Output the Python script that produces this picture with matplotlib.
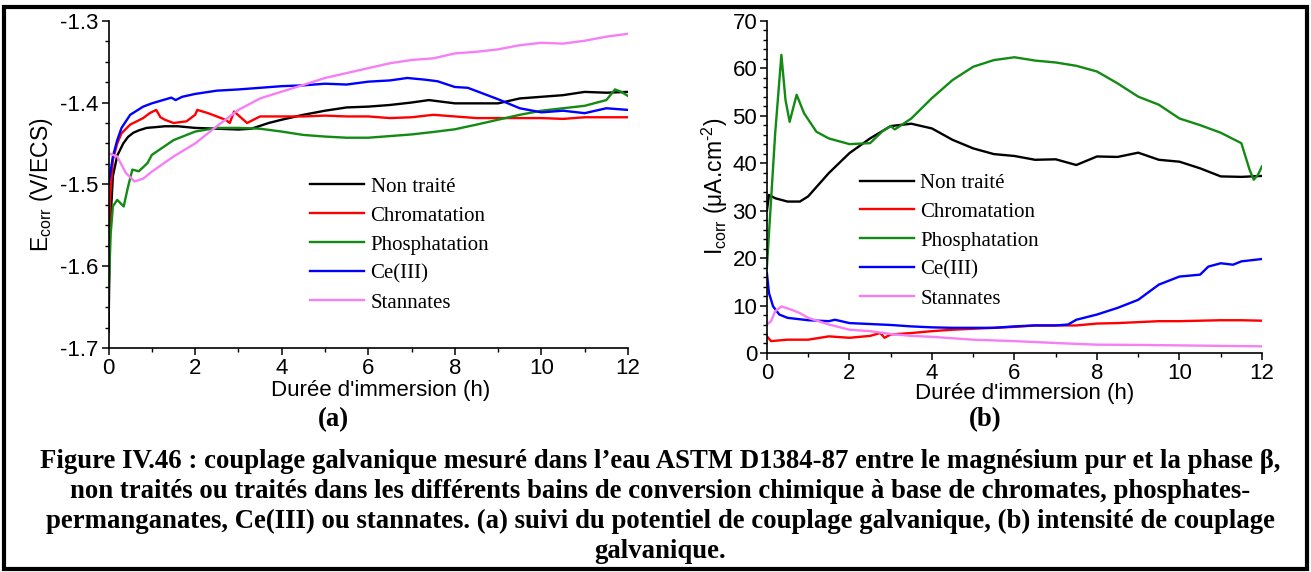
import matplotlib.pyplot as plt
from matplotlib.patches import Rectangle
from matplotlib.ticker import MultipleLocator

plt.rcParams['font.family'] = ['Liberation Sans', 'DejaVu Sans']
plt.rcParams['mathtext.fontset'] = 'custom'
plt.rcParams['mathtext.rm'] = 'Liberation Sans'
plt.rcParams['axes.unicode_minus'] = False

labels = ['Non traité', 'Chromatation', 'Phosphatation', 'Ce(III)', 'Stannates']
colors = ['black', '#ff0000', '#138a13', '#0000ff', '#f57ff5']

# (a) potentiel de couplage E_corr (V/ECS)
t_nt_a = [0, 0.03, 0.1, 0.2, 0.34, 0.45, 0.57, 0.7, 0.88, 1.1, 1.3, 1.6, 2, 2.5, 3, 3.3,
          3.7, 4, 4.5, 5, 5.5, 6, 6.5, 7, 7.4, 7.7, 8, 8.5, 9, 9.5, 10, 10.5, 11, 11.5, 12]
e_nt = [-1.68, -1.56, -1.49, -1.465, -1.45, -1.442, -1.437, -1.434, -1.431, -1.43, -1.429,
        -1.429, -1.431, -1.432, -1.433, -1.432, -1.425, -1.421, -1.415, -1.41, -1.406, -1.405,
        -1.403, -1.4, -1.397, -1.399, -1.401, -1.401, -1.401, -1.395, -1.393, -1.391, -1.387,
        -1.388, -1.387]

t_chr_a = [0, 0.03, 0.1, 0.2, 0.3, 0.5, 0.8, 0.95, 1.1, 1.2, 1.3, 1.5, 1.8, 2.0, 2.05, 2.3,
           2.5, 2.7, 2.8, 2.9, 3.2, 3.5, 4, 4.5, 5, 5.5, 6, 6.5, 7, 7.5, 8, 8.5, 9, 9.5, 10,
           10.5, 11, 11.5, 12]
e_chr = [-1.595, -1.52, -1.47, -1.45, -1.4375, -1.427, -1.419, -1.413, -1.409, -1.418, -1.421,
         -1.425, -1.423, -1.415, -1.409, -1.413, -1.417, -1.421, -1.425, -1.411, -1.425, -1.417,
         -1.417, -1.417, -1.416, -1.417, -1.417, -1.419, -1.418, -1.415, -1.417, -1.419, -1.419,
         -1.419, -1.419, -1.42, -1.418, -1.418, -1.418]

t_pho_a = [0, 0.05, 0.1, 0.2, 0.35, 0.45, 0.55, 0.7, 0.9, 1.0, 1.5, 2, 2.5, 3, 3.5, 4, 4.5,
           5, 5.5, 6, 6.5, 7, 7.5, 8, 8.5, 9, 9.5, 10, 10.5, 11, 11.5, 11.7, 11.85, 12]
e_pho = [-1.635, -1.56, -1.527, -1.519, -1.527, -1.503, -1.482, -1.484, -1.474, -1.464, -1.446,
         -1.4355, -1.431, -1.431, -1.432, -1.4355, -1.4396, -1.4416, -1.443, -1.443, -1.441,
         -1.439, -1.436, -1.4327, -1.427, -1.421, -1.415, -1.41, -1.407, -1.404, -1.397, -1.384,
         -1.387, -1.392]

t_ce_a = [0, 0.1, 0.2, 0.3, 0.5, 0.8, 1.0, 1.45, 1.55, 1.7, 2, 2.5, 3, 3.5, 4, 4.5, 5, 5.5,
          6, 6.5, 6.9, 7.3, 7.6, 8, 8.3, 8.5, 9, 9.5, 10, 10.5, 11, 11.5, 12]
e_ce = [-1.5, -1.466, -1.446, -1.431, -1.415, -1.405, -1.401, -1.394, -1.397, -1.393, -1.3895,
        -1.3855, -1.384, -1.382, -1.38, -1.379, -1.377, -1.378, -1.3745, -1.373, -1.37, -1.372,
        -1.374, -1.381, -1.382, -1.386, -1.396, -1.407, -1.412, -1.41, -1.413, -1.407, -1.409]

t_sn_a = [0, 0.2, 0.4, 0.6, 0.8, 1.0, 1.5, 2, 2.5, 3, 3.5, 4, 4.5, 5, 5.5, 6, 6.5, 7, 7.5,
          8, 8.5, 9, 9.5, 10, 10.5, 11, 11.5, 12]
e_sn = [-1.462, -1.466, -1.486, -1.4965, -1.493, -1.4845, -1.466, -1.45, -1.429, -1.409,
        -1.395, -1.3867, -1.3785, -1.37, -1.364, -1.358, -1.352, -1.348, -1.346, -1.34, -1.338,
        -1.335, -1.33, -1.327, -1.328, -1.3245, -1.3195, -1.316]

# (b) intensite de couplage I_corr (uA.cm-2)
t_nt_b = [0, 0.05, 0.2, 0.5, 0.8, 1.0, 1.5, 2, 2.5, 3, 3.5, 4, 4.5, 5, 5.5, 6, 6.5, 7, 7.5,
          8, 8.5, 9, 9.5, 10, 10.5, 11, 11.5, 12]
i_nt = [30, 33.3, 32.6, 31.9, 31.9, 33, 37.9, 42.1, 45.2, 47.8, 48.3, 47.3, 44.9, 43.1, 41.9,
        41.5, 40.7, 40.8, 39.6, 41.4, 41.3, 42.2, 40.7, 40.3, 38.9, 37.2, 37.1, 37.3]

t_chr_b = [0, 0.1, 0.5, 1, 1.5, 2, 2.5, 2.75, 2.85, 3, 3.5, 4, 4.5, 5, 5.5, 6, 6.5, 7, 7.5,
           8, 8.5, 9, 9.5, 10, 10.5, 11, 11.5, 12]
i_chr = [3.5, 2.5, 2.8, 2.8, 3.5, 3.2, 3.6, 4.2, 3.2, 3.9, 4.2, 4.6, 4.9, 5.1, 5.3, 5.5, 5.8,
         5.8, 5.8, 6.2, 6.3, 6.5, 6.7, 6.7, 6.8, 6.9, 6.9, 6.8]

t_pho_b = [0, 0.2, 0.35, 0.45, 0.55, 0.72, 0.9, 1.2, 1.5, 2, 2.5, 2.8, 3, 3.1, 3.5, 4, 4.5,
           5, 5.5, 6, 6.5, 7, 7.5, 8, 8.5, 9, 9.5, 10, 10.5, 11, 11.5, 11.7, 11.8, 11.9, 12]
i_pho = [18.2, 46.3, 62.8, 53.3, 48.7, 54.4, 50.5, 46.6, 45.2, 44.0, 44.2, 46.7, 47.8, 47.1,
         49.4, 53.7, 57.5, 60.3, 61.7, 62.3, 61.6, 61.2, 60.5, 59.3, 56.8, 54.0, 52.3, 49.4,
         48.0, 46.4, 44.2, 38.6, 36.5, 37.5, 39.3]

t_ce_b = [0, 0.05, 0.15, 0.3, 0.5, 1, 1.5, 1.65, 2, 2.5, 3, 3.5, 4, 4.5, 5, 5.5, 6, 6.5, 7,
          7.3, 7.5, 8, 8.5, 9, 9.5, 10, 10.5, 10.7, 11, 11.3, 11.5, 12]
i_ce = [16.8, 12.6, 9.8, 8.1, 7.4, 6.9, 6.7, 7.0, 6.3, 6.1, 5.9, 5.6, 5.4, 5.3, 5.3, 5.3, 5.6,
        5.8, 5.8, 6.0, 7.0, 8.1, 9.5, 11.2, 14.4, 16.1, 16.5, 18.2, 18.9, 18.6, 19.3, 19.8]

t_sn_b = [0, 0.1, 0.2, 0.35, 0.6, 0.8, 1, 1.5, 2, 2.5, 3, 3.5, 4, 5, 6, 7, 8, 9, 10, 11, 12]
i_sn = [6.0, 6.7, 8.8, 9.8, 9.1, 8.4, 7.4, 6.0, 4.9, 4.6, 4.0, 3.6, 3.4, 2.8, 2.5, 2.1, 1.75,
        1.7, 1.6, 1.5, 1.4]

series_a = [(t_nt_a, e_nt), (t_chr_a, e_chr), (t_pho_a, e_pho), (t_ce_a, e_ce), (t_sn_a, e_sn)]
series_b = [(t_nt_b, i_nt), (t_chr_b, i_chr), (t_pho_b, i_pho), (t_ce_b, i_ce), (t_sn_b, i_sn)]

fig = plt.figure(figsize=(13.11, 5.72), dpi=100)
ax1 = fig.add_axes([0.0828, 0.3916, 0.3962, 0.5722])
ax2 = fig.add_axes([0.585, 0.3829, 0.3776, 0.5809])


def style_axis(ax, label_x, label_y):
    for side in ('top', 'right'):
        ax.spines[side].set_visible(False)
    for side in ('left', 'bottom'):
        ax.spines[side].set_linewidth(1.2)
    ax.set_xlim(0, 12)
    ax.xaxis.set_major_locator(MultipleLocator(2))
    ax.xaxis.set_minor_locator(MultipleLocator(1))
    ax.tick_params(which='major', direction='out', length=5, width=1.1, labelsize=16, pad=2)
    ax.tick_params(which='minor', direction='out', length=3, width=1.0)
    ax.set_xlabel("Durée d'immersion (h)", fontsize=16)
    ax.xaxis.set_label_coords(label_x, label_y)


for (t, v), lab, c in zip(series_a, labels, colors):
    ax1.plot(t, v, color=c, lw=1.7, label=lab)
style_axis(ax1, 0.523, -0.097)
ax1.set_ylim(-1.7, -1.3)
ax1.yaxis.set_major_locator(MultipleLocator(0.1))
ax1.yaxis.set_minor_locator(MultipleLocator(0.025))
ax1.set_ylabel(r'E$_{\mathregular{corr}}$ (V/ECS)', fontsize=16.5, labelpad=4)

for (t, v), lab, c in zip(series_b, labels, colors):
    ax2.plot(t, v, color=c, lw=1.7, label=lab)
style_axis(ax2, 0.521, -0.09)
ax2.set_ylim(0, 70)
ax2.yaxis.set_major_locator(MultipleLocator(10))
ax2.yaxis.set_minor_locator(MultipleLocator(2))
ax2.set_ylabel(r'I$_{\mathregular{corr}}$ ($\mathregular{\mu}$A.cm$^{\mathregular{\text{-}2}}$)',
               fontsize=16.5, labelpad=2)

leg_kw = dict(frameon=False, loc='upper left', borderpad=0, borderaxespad=0,
              handlelength=2.6, handletextpad=0.3, labelspacing=0.45,
              prop={'family': 'Liberation Serif', 'size': 15})
for leg in (ax1.legend(bbox_to_anchor=(0.388, 0.522), **leg_kw),
            ax2.legend(bbox_to_anchor=(0.188, 0.541), **leg_kw)):
    for h in leg.get_lines():
        h.set_linewidth(1.7)

serif_bold = dict(family='Liberation Serif', weight='bold', fontsize=19.3, ha='center', va='center')
fig.text(333 / 1311, 1 - 420 / 572, '(a)', **serif_bold)
fig.text(985 / 1311, 1 - 420 / 572, '(b)', **serif_bold)
caption = [
    'Figure IV.46 : couplage galvanique mesuré dans l’eau ASTM D1384-87 entre le magnésium pur et la phase β,',
    'non traités ou traités dans les différents bains de conversion chimique à base de chromates, phosphates-',
    'permanganates, Ce(III) ou stannates. (a) suivi du potentiel de couplage galvanique, (b) intensité de couplage',
    'galvanique.',
]
for k, line in enumerate(caption):
    fig.text(660 / 1311, 1 - (461 + 30 * k) / 572, line, **serif_bold)

# cadre noir autour de la figure
fig.patches.append(Rectangle((0.003, 0.006), 0.994, 0.982, transform=fig.transFigure,
                             fill=False, edgecolor='black', linewidth=3))

fig.savefig('out.png', dpi=100)
